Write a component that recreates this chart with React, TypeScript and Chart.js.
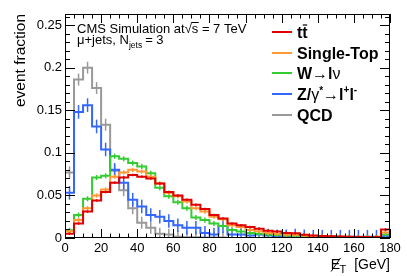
import React, { useEffect, useRef } from 'react';
import { Chart, registerables } from 'chart.js';

Chart.register(...registerables);

const FONT = '"Liberation Sans", Arial, Helvetica, sans-serif';

// MET bin edges [GeV]
const binEdges = [0, 5, 10, 15, 20, 25, 30, 35, 40, 45, 50, 55, 60, 65, 70, 75, 80, 85, 90, 95, 100, 105, 110, 115, 120, 125, 130, 135, 140, 145, 150, 155, 160, 165, 170, 175, 180];

const seriesLabels = ['tt̄', 'Single-Top', 'W→lν', 'Z/γ*→l⁺l⁻', 'QCD'];
const seriesColors = ['#e00000', '#ff9933', '#33cc33', '#3366ff', '#999999'];

// event fractions per bin
const ttbar = [0.005, 0.017, 0.031, 0.044, 0.054, 0.065, 0.071, 0.074, 0.072, 0.070, 0.064, 0.054, 0.050, 0.045, 0.039, 0.034, 0.027, 0.023, 0.017, 0.015, 0.013, 0.011, 0.0085, 0.0075, 0.006, 0.0055, 0.0038, 0.0028, 0.0024, 0.002, 0.0017, 0.0015, 0.0013, 0.0012, 0.0011, 0.010];
const singleTop = [0.008, 0.021, 0.035, 0.050, 0.057, 0.072, 0.077, 0.080, 0.078, 0.072, 0.064, 0.053, 0.049, 0.043, 0.035, 0.031, 0.025, 0.022, 0.015, 0.013, 0.0095, 0.008, 0.006, 0.005, 0.0042, 0.0038, 0.0028, 0.002, 0.0018, 0.0015, 0.0012, 0.001, 0.0009, 0.0008, 0.0007, 0.0065];
const wlnu = [0.009, 0.027, 0.046, 0.071, 0.073, 0.096, 0.093, 0.088, 0.084, 0.076, 0.059, 0.049, 0.042, 0.035, 0.024, 0.021, 0.017, 0.014, 0.0094, 0.0075, 0.006, 0.005, 0.004, 0.0035, 0.003, 0.0027, 0.0022, 0.0018, 0.0015, 0.0013, 0.0011, 0.001, 0.0009, 0.0008, 0.0007, 0.004];
const zll = [0.053, 0.148, 0.156, 0.131, 0.104, 0.080, 0.065, 0.045, 0.037, 0.027, 0.025, 0.020, 0.015, 0.012, 0.012, 0.006, 0.004, 0.014, 0.004, 0.004, 0.003, 0.004, 0.003, 0.002, 0.002, 0.003, 0.002, 0.0015, 0.0015, 0.0015, 0.0015, 0.0015, 0.0015, 0.0015, 0.0015, 0.002];
const qcd = [0.077, 0.186, 0.200, 0.176, 0.133, 0.079, 0.056, 0.035, 0.018, 0.012, 0.005, 0.004, 0.0015, 0.001, 0.001, 0.0005, 0.0005, 0.0005, 0, 0, 0, 0, 0, 0, 0, 0, 0, 0, 0, 0, 0, 0, 0, 0, 0, 0];

// statistical error (half-length) per series
const errTtbar = 0.0015;
const errSingleTop = 0.0025;
const errWlnu = 0.003;
const errZll = 0.008;
const errQcd = 0.007;

const allValues = [ttbar, singleTop, wlnu, zll, qcd];
const allErrors = [errTtbar, errSingleTop, errWlnu, errZll, errQcd];

function stepPoints(values: number[]) {
  const pts = values.map((v, i) => ({ x: binEdges[i], y: v }));
  pts.push({ x: binEdges[values.length], y: values[values.length - 1] });
  return pts;
}

type Seg = { t: string; f: string; dy?: number; over?: boolean; gap?: number };

function drawRich(ctx: CanvasRenderingContext2D, x: number, y: number, segs: Seg[]) {
  let cx = x;
  for (const s of segs) {
    ctx.font = s.f;
    const w = ctx.measureText(s.t).width;
    ctx.fillText(s.t, cx, y + (s.dy || 0));
    if (s.over) {
      ctx.save();
      ctx.lineWidth = 1.2;
      ctx.strokeStyle = '#000';
      ctx.beginPath();
      ctx.moveTo(cx + 0.5, y - 13);
      ctx.lineTo(cx + w - 0.5, y - 13);
      ctx.stroke();
      ctx.restore();
    }
    cx += w + (s.gap || 0);
  }
  return cx;
}

const rootPlugin = {
  id: 'rootPlugin',
  afterDatasetDraw(chart: any, args: any) {
    const ctx: CanvasRenderingContext2D = chart.ctx;
    const vals = allValues[args.index];
    const err = allErrors[args.index];
    const xs = chart.scales.x;
    const ys = chart.scales.y;
    const a = chart.chartArea;
    ctx.save();
    ctx.beginPath();
    ctx.rect(a.left, a.top, a.right - a.left, a.bottom - a.top);
    ctx.clip();
    ctx.strokeStyle = seriesColors[args.index];
    ctx.lineWidth = 1.5;
    vals.forEach((v: number, i: number) => {
      if (v <= 0) return;
      const cx = xs.getPixelForValue((binEdges[i] + binEdges[i + 1]) / 2);
      ctx.beginPath();
      ctx.moveTo(cx, ys.getPixelForValue(v - err));
      ctx.lineTo(cx, ys.getPixelForValue(v + err));
      ctx.stroke();
    });
    ctx.restore();
  },
  afterDraw(chart: any) {
    const ctx: CanvasRenderingContext2D = chart.ctx;
    const a = chart.chartArea;
    const xs = chart.scales.x;
    const ys = chart.scales.y;
    ctx.save();
    // frame
    ctx.strokeStyle = '#000';
    ctx.lineWidth = 1;
    ctx.strokeRect(Math.round(a.left) + 0.5, Math.round(a.top) + 0.5, Math.round(a.right - a.left) - 1, Math.round(a.bottom - a.top) - 1);
    // x ticks
    ctx.beginPath();
    for (let v = 0; v <= 180; v += 5) {
      const px = Math.round(xs.getPixelForValue(v)) + 0.5;
      const len = v % 20 === 0 ? 9 : 4.5;
      ctx.moveTo(px, a.bottom);
      ctx.lineTo(px, a.bottom - len);
      ctx.moveTo(px, a.top);
      ctx.lineTo(px, a.top + len);
    }
    // y ticks
    for (let k = 0; k <= 26; k++) {
      const py = Math.round(ys.getPixelForValue(k * 0.01)) + 0.5;
      const len = k % 5 === 0 ? 10 : 5;
      ctx.moveTo(a.left, py);
      ctx.lineTo(a.left + len, py);
      ctx.moveTo(a.right, py);
      ctx.lineTo(a.right - len, py);
    }
    ctx.stroke();

    ctx.fillStyle = '#000';
    ctx.textBaseline = 'alphabetic';
    ctx.textAlign = 'left';

    // y-axis title
    ctx.save();
    ctx.translate(25, a.top);
    ctx.rotate(-Math.PI / 2);
    ctx.textAlign = 'right';
    ctx.font = `15.5px ${FONT}`;
    ctx.fillText('event fraction', 0, 0);
    ctx.restore();

    // x-axis title: E-slash_T [GeV]
    ctx.font = `14px ${FONT}`;
    const gevW = ctx.measureText('[GeV]').width;
    const gevX = a.right - gevW;
    ctx.fillText('[GeV]', gevX, 269);
    ctx.font = `11px ${FONT}`;
    const tW = ctx.measureText('T').width;
    const tX = gevX - 8 - tW;
    ctx.fillText('T', tX, 273);
    ctx.font = `14px ${FONT}`;
    const eW = ctx.measureText('E').width;
    const eX = tX - eW + 0.5;
    ctx.fillText('E', eX, 269);
    ctx.lineWidth = 1;
    ctx.beginPath();
    ctx.moveTo(eX + 0.5, 271.5);
    ctx.lineTo(eX + eW + 0.5, 258);
    ctx.stroke();

    // top-left labels
    const reg = `13px ${FONT}`;
    let cx = drawRich(ctx, 77, 32.7, [{ t: 'CMS Simulation at', f: reg }, { t: '√', f: reg }]);
    ctx.font = reg;
    const sW = ctx.measureText('s').width;
    ctx.fillText('s', cx, 32.7);
    ctx.beginPath();
    ctx.moveTo(cx - 0.5, 22.5);
    ctx.lineTo(cx + sW + 0.5, 22.5);
    ctx.stroke();
    ctx.fillText(' = 7 TeV', cx + sW, 32.7);
    drawRich(ctx, 77, 43.5, [
      { t: 'μ+jets, N', f: reg },
      { t: 'jets', f: `8.5px ${FONT}`, dy: 4.5, gap: 3 },
      { t: '= 3', f: reg },
    ]);

    // legend
    const B = `bold 16px ${FONT}`;
    const N = `16px ${FONT}`;
    const S = `bold 10px ${FONT}`;
    const rows: Seg[][] = [
      [{ t: 't', f: B }, { t: 't', f: B, over: true }],
      [{ t: 'Single-Top', f: B }],
      [{ t: 'W', f: B }, { t: '→', f: N }, { t: 'l', f: B }, { t: 'ν', f: N }],
      [{ t: 'Z/', f: B }, { t: 'γ', f: N }, { t: '*', f: S, dy: -6 }, { t: '→', f: N }, { t: 'l', f: B }, { t: '+', f: S, dy: -7 }, { t: 'l', f: B }, { t: '-', f: S, dy: -7 }],
      [{ t: 'QCD', f: B }],
    ];
    const rowY = [32, 53, 73, 94, 115];
    rows.forEach((segs, i) => {
      ctx.strokeStyle = seriesColors[i];
      ctx.lineWidth = 2;
      ctx.beginPath();
      ctx.moveTo(272, rowY[i]);
      ctx.lineTo(292, rowY[i]);
      ctx.stroke();
      ctx.strokeStyle = '#000';
      ctx.fillStyle = '#000';
      drawRich(ctx, 297, rowY[i] + 6, segs);
    });
    ctx.restore();
  },
};

export default function App() {
  const ref = useRef<HTMLCanvasElement | null>(null);
  useEffect(() => {
    if (!ref.current) return;
    const chart = new Chart(ref.current, {
      type: 'line',
      data: {
        datasets: allValues.map((vals, i) => ({
          label: seriesLabels[i],
          data: stepPoints(vals),
          borderColor: seriesColors[i],
          backgroundColor: seriesColors[i],
          borderWidth: 2,
          pointRadius: 0,
          stepped: 'before' as const,
          fill: false,
          tension: 0,
        })),
      },
      options: {
        animation: false,
        responsive: false,
        devicePixelRatio: 1,
        layout: { padding: { left: 0, right: 17, top: 14, bottom: 0 } },
        plugins: { legend: { display: false }, tooltip: { enabled: false } },
        scales: {
          x: {
            type: 'linear',
            min: 0,
            max: 180,
            grid: { display: false, drawTicks: false },
            border: { display: false },
            ticks: {
              stepSize: 20,
              autoSkip: false,
              maxRotation: 0,
              padding: 3,
              color: '#000',
              font: { family: FONT, size: 13 },
            },
            afterFit: (s: any) => { s.height = 38; },
          },
          y: {
            min: 0,
            max: 0.263,
            grid: { display: false, drawTicks: false },
            border: { display: false },
            ticks: {
              stepSize: 0.05,
              includeBounds: false,
              padding: 3,
              color: '#000',
              font: { family: FONT, size: 13 },
              callback: (v: any) => String(+Number(v).toFixed(2)),
            },
            afterFit: (s: any) => { s.width = 65; },
          },
        },
      },
      plugins: [rootPlugin],
    });
    return () => chart.destroy();
  }, []);
  return (
    <div style={{ position: 'fixed', left: 0, top: 0, width: 407, height: 276, background: '#fff' }}>
      <canvas ref={ref} width={407} height={276} style={{ width: 407, height: 276 }} />
    </div>
  );
}
